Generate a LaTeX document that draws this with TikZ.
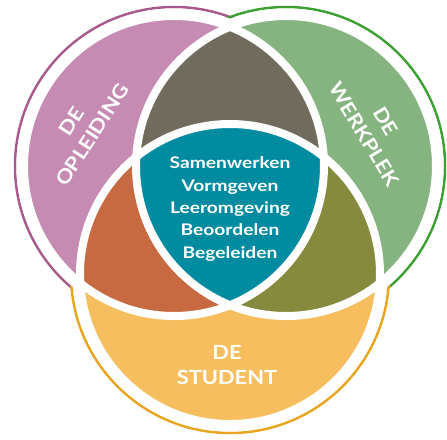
\documentclass[tikz,border=0pt]{standalone}
\usepackage{fontspec}
\setmainfont{Lato}
\newfontfamily\widelato{Lato}[FakeStretch=1.2]
\newfontfamily\bigwide{Lato}[FakeStretch=1.12]
\definecolor{pinkfill}{HTML}{C58BB2}
\definecolor{pinkline}{HTML}{A85A8C}
\definecolor{greenfill}{HTML}{86B480}
\definecolor{greenline}{HTML}{3CA032}
\definecolor{yellowfill}{HTML}{F6BE5F}
\definecolor{yellowline}{HTML}{E8A51E}
\definecolor{greyc}{HTML}{706B5C}
\definecolor{orangec}{HTML}{C76A42}
\definecolor{olivec}{HTML}{868A3C}
\definecolor{tealc}{HTML}{008BA0}
\begin{document}
\begin{tikzpicture}[x=1pt,y=-1pt,
  outline/.style={line width=2.5pt},
  sep/.style={draw=white,line width=8pt},
  lbl/.style={text=white,align=center,inner sep=0pt},
  big/.style={lbl,font=\bigwide\fontsize{19.5}{25}\selectfont\bfseries},
  core/.style={lbl,font=\widelato\fontsize{16}{22.3}\selectfont\bfseries}]
\useasboundingbox (0,0) rectangle (447,439);
\coordinate (P) at (174,166);
\coordinate (G) at (286,166);
\coordinate (Y) at (230,274);
% outer rings
\draw[outline,pinkline] (P) circle (159pt);
\draw[outline,greenline] (G) circle (159pt);
\draw[outline,yellowline] (Y) circle (159pt);
\fill[white] (P) circle (157.5pt);
\fill[white] (G) circle (157.5pt);
\fill[white] (Y) circle (157.5pt);
% fills
\fill[pinkfill] (P) circle (150pt);
\fill[greenfill] (G) circle (150pt);
\fill[yellowfill] (Y) circle (150pt);
\begin{scope}
  \clip (P) circle (150pt);
  \fill[greyc] (G) circle (150pt);
  \fill[orangec] (Y) circle (150pt);
\end{scope}
\begin{scope}
  \clip (G) circle (150pt);
  \fill[olivec] (Y) circle (150pt);
  \clip (P) circle (150pt);
  \fill[tealc] (Y) circle (150pt);
\end{scope}
\draw[sep] (P) circle (150pt);
\draw[sep] (G) circle (150pt);
\draw[sep] (Y) circle (150pt);
% labels
\node[big,rotate=57] (opl) at (82,128) {DE\\OPLEIDING};
\node[big,rotate=-59] (werk) at (375,128) {DE\\WERKPLEK};
\node[big] (stud) at (227,365) {DE\\STUDENT};
\node[core] (kern) at (230,209) {Samenwerken\\Vormgeven\\Leeromgeving\\Beoordelen\\Begeleiden};
\end{tikzpicture}
\end{document}
